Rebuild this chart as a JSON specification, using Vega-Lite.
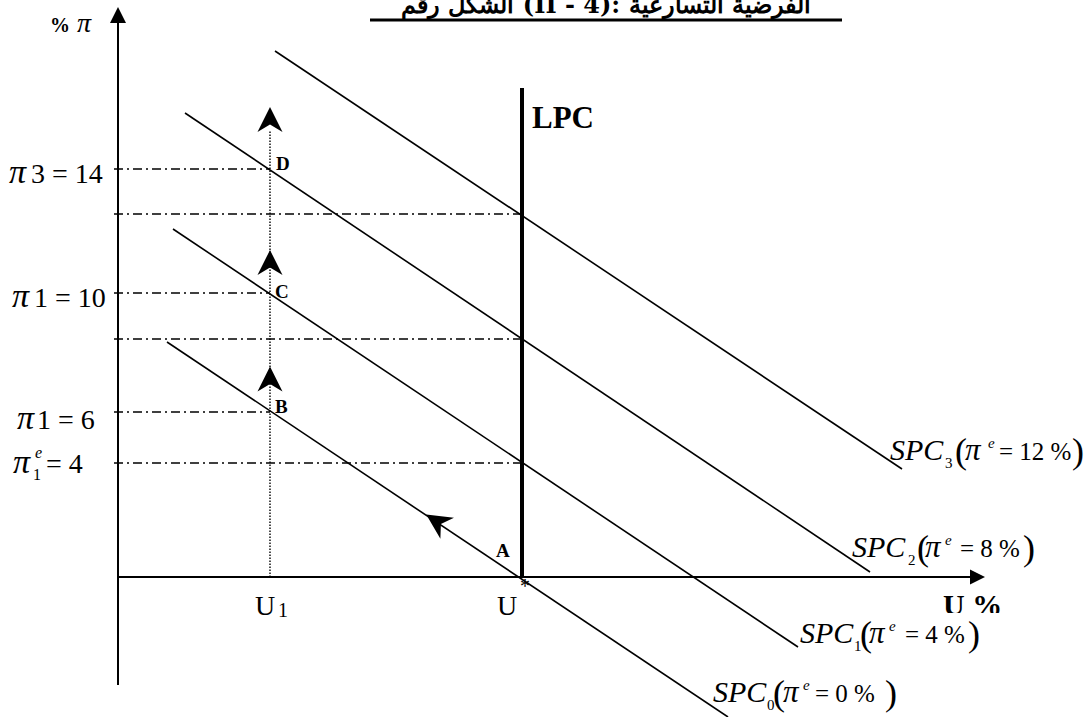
{
  "$schema": "https://vega.github.io/schema/vega-lite/v6.json",
  "width": 1088,
  "height": 717,
  "autosize": {"type": "none"},
  "padding": 0,
  "background": "white",
  "config": {"view": {"stroke": null}},
  "datasets": {
    "seg": [
      {"kind": "axis", "x": 0, "y": -108, "x2": 0, "y2": 558},
      {"kind": "axis", "x": 0, "y": 0, "x2": 853, "y2": 0},
      {"kind": "spc", "x": 49, "y": 235, "x2": 610, "y2": -140},
      {"kind": "spc", "x": 55, "y": 348, "x2": 680, "y2": -70},
      {"kind": "spc", "x": 67, "y": 464, "x2": 752, "y2": 5},
      {"kind": "spc", "x": 157, "y": 526, "x2": 784, "y2": 108},
      {"kind": "lpc", "x": 404, "y": -1, "x2": 404, "y2": 489},
      {"kind": "dashdot", "x": -4, "y": 408, "x2": 152, "y2": 408},
      {"kind": "dashdot", "x": -4, "y": 363, "x2": 404, "y2": 363},
      {"kind": "dashdot", "x": -4, "y": 284, "x2": 152, "y2": 284},
      {"kind": "dashdot", "x": -4, "y": 238, "x2": 404, "y2": 238},
      {"kind": "dashdot", "x": -4, "y": 165, "x2": 152, "y2": 165},
      {"kind": "dashdot", "x": -4, "y": 114, "x2": 404, "y2": 114},
      {"kind": "dotted", "x": 152, "y": 0, "x2": 152, "y2": 447},
      {"kind": "underline", "x": 252, "y": 557, "x2": 724, "y2": 557}
    ],
    "heads": [
      {"kind": "chevron", "x": 152, "y": 457.5},
      {"kind": "chevron", "x": 152, "y": 314.5},
      {"kind": "chevron", "x": 152, "y": 198},
      {"kind": "chevron_tilt", "x": 318.7, "y": 55.6},
      {"kind": "triup", "x": 0, "y": 562},
      {"kind": "triright", "x": 859.5, "y": 0}
    ],
    "mask": [
      {"x": 682, "x2": 882, "y": -36, "y2": -83}
    ],
    "txt": [
      {"kind": "title", "x": 488, "y": 564, "text": "الشكل رقم (II - 4): الفرضية التسارعية"},
      {"kind": "uaxis", "x": 825, "y": -38, "text": "U %"},
      {"kind": "labpi", "x": -109, "y": 394, "text": "π"},
      {"kind": "lab", "x": -87, "y": 394, "text": "3 = 14"},
      {"kind": "labpi", "x": -106, "y": 270, "text": "π"},
      {"kind": "lab", "x": -84, "y": 270, "text": "1 = 10"},
      {"kind": "labpi", "x": -101, "y": 148, "text": "π"},
      {"kind": "lab", "x": -81, "y": 148, "text": "1 = 6"},
      {"kind": "labpi", "x": -105, "y": 104, "text": "π"},
      {"kind": "labsup", "x": -83, "y": 119, "text": "e"},
      {"kind": "labsub", "x": -85, "y": 97, "text": "1"},
      {"kind": "lab", "x": -72, "y": 104, "text": "= 4"},
      {"kind": "pct", "x": -68, "y": 545, "text": "%"},
      {"kind": "labital", "x": -41, "y": 545, "text": "π"},
      {"kind": "lab", "x": 137, "y": -38, "text": "U"},
      {"kind": "usub", "x": 160, "y": -40, "text": "1"},
      {"kind": "lab", "x": 379, "y": -38, "text": "U"},
      {"kind": "usub", "x": 402, "y": -16, "text": "*"},
      {"kind": "pt", "x": 158, "y": 407, "text": "D"},
      {"kind": "pt", "x": 157, "y": 279, "text": "C"},
      {"kind": "pt", "x": 157, "y": 164, "text": "B"},
      {"kind": "pt", "x": 378, "y": 20, "text": "A"},
      {"kind": "big", "x": 414, "y": 449, "text": "LPC"},
      {"kind": "spc", "x": 772, "y": 117, "text": "SPC"},
      {"kind": "spcsub", "x": 827, "y": 109, "text": "3"},
      {"kind": "paren", "x": 837, "y": 114, "text": "("},
      {"kind": "spcpi", "x": 847, "y": 117, "text": "π"},
      {"kind": "spcsup", "x": 870, "y": 129, "text": "e"},
      {"kind": "spcreg", "x": 881, "y": 117, "text": "= 12 %"},
      {"kind": "paren", "x": 954, "y": 114, "text": ")"},
      {"kind": "spc", "x": 734, "y": 20, "text": "SPC"},
      {"kind": "spcsub", "x": 790, "y": 12, "text": "2"},
      {"kind": "paren", "x": 799, "y": 17, "text": "("},
      {"kind": "spcpi", "x": 807, "y": 20, "text": "π"},
      {"kind": "spcsup", "x": 827, "y": 32, "text": "e"},
      {"kind": "spcreg", "x": 842, "y": 20, "text": "= 8 %"},
      {"kind": "paren", "x": 905, "y": 17, "text": ")"},
      {"kind": "spc", "x": 682, "y": -66, "text": "SPC"},
      {"kind": "spcsub", "x": 736, "y": -74, "text": "1"},
      {"kind": "paren", "x": 742, "y": -69, "text": "("},
      {"kind": "spcpi", "x": 751, "y": -66, "text": "π"},
      {"kind": "spcsup", "x": 771, "y": -54, "text": "e"},
      {"kind": "spcreg", "x": 787, "y": -66, "text": "= 4 %"},
      {"kind": "paren", "x": 850, "y": -69, "text": ")"},
      {"kind": "spc", "x": 595, "y": -125, "text": "SPC"},
      {"kind": "spcsub", "x": 649, "y": -133, "text": "0"},
      {"kind": "paren", "x": 655, "y": -128, "text": "("},
      {"kind": "spcpi", "x": 665, "y": -125, "text": "π"},
      {"kind": "spcsup", "x": 685, "y": -113, "text": "e"},
      {"kind": "spcreg", "x": 697, "y": -125, "text": "= 0 %"},
      {"kind": "paren", "x": 767, "y": -128, "text": ")"}
    ]
  },
  "encoding": {
    "x": {"field": "x", "type": "quantitative", "scale": {"domain": [-118, 970], "nice": false, "zero": false}, "axis": null},
    "y": {"field": "y", "type": "quantitative", "scale": {"domain": [-140, 577], "nice": false, "zero": false}, "axis": null}
  },
  "layer": [
    {"data": {"name": "seg"}, "transform": [{"filter": "datum.kind === 'axis'"}], "mark": {"type": "rule", "color": "black", "strokeWidth": 2}, "encoding": {"x2": {"field": "x2"}, "y2": {"field": "y2"}}},
    {"data": {"name": "seg"}, "transform": [{"filter": "datum.kind === 'spc'"}], "mark": {"type": "rule", "color": "black", "strokeWidth": 1.6}, "encoding": {"x2": {"field": "x2"}, "y2": {"field": "y2"}}},
    {"data": {"name": "seg"}, "transform": [{"filter": "datum.kind === 'lpc'"}], "mark": {"type": "rule", "color": "black", "strokeWidth": 4}, "encoding": {"x2": {"field": "x2"}, "y2": {"field": "y2"}}},
    {"data": {"name": "seg"}, "transform": [{"filter": "datum.kind === 'dashdot'"}], "mark": {"type": "rule", "color": "black", "strokeWidth": 1.4, "strokeDash": [9, 4, 2, 4]}, "encoding": {"x2": {"field": "x2"}, "y2": {"field": "y2"}}},
    {"data": {"name": "seg"}, "transform": [{"filter": "datum.kind === 'dotted'"}], "mark": {"type": "rule", "color": "black", "strokeWidth": 1.4, "strokeDash": [1.5, 1.5]}, "encoding": {"x2": {"field": "x2"}, "y2": {"field": "y2"}}},
    {"data": {"name": "seg"}, "transform": [{"filter": "datum.kind === 'underline'"}], "mark": {"type": "rule", "color": "black", "strokeWidth": 3}, "encoding": {"x2": {"field": "x2"}, "y2": {"field": "y2"}}},
    {"data": {"name": "heads"}, "transform": [{"filter": "datum.kind === 'chevron'"}], "mark": {"type": "point", "shape": "M0,-1L1,1L0,0.4L-1,1Z", "size": 625, "filled": true, "color": "black", "opacity": 1, "strokeWidth": 0}},
    {"data": {"name": "heads"}, "transform": [{"filter": "datum.kind === 'chevron_tilt'"}], "mark": {"type": "point", "shape": "M0,-1L1,1L0,0.4L-1,1Z", "size": 625, "angle": 303, "filled": true, "color": "black", "opacity": 1, "strokeWidth": 0}},
    {"data": {"name": "heads"}, "transform": [{"filter": "datum.kind === 'triup'"}], "mark": {"type": "point", "shape": "M0,-1L1,1L-1,1Z", "size": 256, "filled": true, "color": "black", "opacity": 1, "strokeWidth": 0}},
    {"data": {"name": "heads"}, "transform": [{"filter": "datum.kind === 'triright'"}], "mark": {"type": "point", "shape": "M1,0L-1,1L-1,-1Z", "size": 225, "filled": true, "color": "black", "opacity": 1, "strokeWidth": 0}},
    {"data": {"name": "txt"}, "transform": [{"filter": "datum.kind === 'uaxis'"}], "mark": {"type": "text", "align": "left", "baseline": "alphabetic", "font": "Liberation Serif", "fontWeight": "bold", "fontSize": 30, "color": "black"}, "encoding": {"text": {"field": "text"}}},
    {"data": {"name": "mask"}, "mark": {"type": "rect", "color": "white", "opacity": 1, "strokeWidth": 0}, "encoding": {"x2": {"field": "x2"}, "y2": {"field": "y2"}}},
    {"data": {"name": "txt"}, "transform": [{"filter": "datum.kind === 'title'"}], "mark": {"type": "text", "align": "center", "baseline": "alphabetic", "font": "DejaVu Serif", "fontWeight": "bold", "fontSize": 24, "color": "black"}, "encoding": {"text": {"field": "text"}}},
    {"data": {"name": "txt"}, "transform": [{"filter": "datum.kind === 'lab'"}], "mark": {"type": "text", "align": "left", "baseline": "alphabetic", "font": "Liberation Serif", "fontSize": 28, "color": "black"}, "encoding": {"text": {"field": "text"}}},
    {"data": {"name": "txt"}, "transform": [{"filter": "datum.kind === 'labpi'"}], "mark": {"type": "text", "align": "left", "baseline": "alphabetic", "font": "Liberation Serif", "fontStyle": "italic", "fontSize": 34, "color": "black"}, "encoding": {"text": {"field": "text"}}},
    {"data": {"name": "txt"}, "transform": [{"filter": "datum.kind === 'labital'"}], "mark": {"type": "text", "align": "left", "baseline": "alphabetic", "font": "Liberation Serif", "fontStyle": "italic", "fontSize": 28, "color": "black"}, "encoding": {"text": {"field": "text"}}},
    {"data": {"name": "txt"}, "transform": [{"filter": "datum.kind === 'labsup'"}], "mark": {"type": "text", "align": "left", "baseline": "alphabetic", "font": "Liberation Serif", "fontStyle": "italic", "fontSize": 16, "color": "black"}, "encoding": {"text": {"field": "text"}}},
    {"data": {"name": "txt"}, "transform": [{"filter": "datum.kind === 'labsub'"}], "mark": {"type": "text", "align": "left", "baseline": "alphabetic", "font": "Liberation Serif", "fontSize": 16, "color": "black"}, "encoding": {"text": {"field": "text"}}},
    {"data": {"name": "txt"}, "transform": [{"filter": "datum.kind === 'usub'"}], "mark": {"type": "text", "align": "left", "baseline": "alphabetic", "font": "Liberation Serif", "fontSize": 20, "color": "black"}, "encoding": {"text": {"field": "text"}}},
    {"data": {"name": "txt"}, "transform": [{"filter": "datum.kind === 'pct'"}], "mark": {"type": "text", "align": "left", "baseline": "alphabetic", "font": "Liberation Serif", "fontWeight": "bold", "fontSize": 20, "color": "black"}, "encoding": {"text": {"field": "text"}}},
    {"data": {"name": "txt"}, "transform": [{"filter": "datum.kind === 'pt'"}], "mark": {"type": "text", "align": "left", "baseline": "alphabetic", "font": "Liberation Serif", "fontWeight": "bold", "fontSize": 19, "color": "black"}, "encoding": {"text": {"field": "text"}}},
    {"data": {"name": "txt"}, "transform": [{"filter": "datum.kind === 'big'"}], "mark": {"type": "text", "align": "left", "baseline": "alphabetic", "font": "Liberation Serif", "fontWeight": "bold", "fontSize": 31, "color": "black"}, "encoding": {"text": {"field": "text"}}},
    {"data": {"name": "txt"}, "transform": [{"filter": "datum.kind === 'spc'"}], "mark": {"type": "text", "align": "left", "baseline": "alphabetic", "font": "Liberation Serif", "fontStyle": "italic", "fontSize": 30, "color": "black"}, "encoding": {"text": {"field": "text"}}},
    {"data": {"name": "txt"}, "transform": [{"filter": "datum.kind === 'spcpi'"}], "mark": {"type": "text", "align": "left", "baseline": "alphabetic", "font": "Liberation Serif", "fontStyle": "italic", "fontSize": 31, "color": "black"}, "encoding": {"text": {"field": "text"}}},
    {"data": {"name": "txt"}, "transform": [{"filter": "datum.kind === 'spcreg'"}], "mark": {"type": "text", "align": "left", "baseline": "alphabetic", "font": "Liberation Serif", "fontSize": 25, "color": "black"}, "encoding": {"text": {"field": "text"}}},
    {"data": {"name": "txt"}, "transform": [{"filter": "datum.kind === 'spcsub'"}], "mark": {"type": "text", "align": "left", "baseline": "alphabetic", "font": "Liberation Serif", "fontSize": 15, "color": "black"}, "encoding": {"text": {"field": "text"}}},
    {"data": {"name": "txt"}, "transform": [{"filter": "datum.kind === 'spcsup'"}], "mark": {"type": "text", "align": "left", "baseline": "alphabetic", "font": "Liberation Serif", "fontStyle": "italic", "fontSize": 15, "color": "black"}, "encoding": {"text": {"field": "text"}}},
    {"data": {"name": "txt"}, "transform": [{"filter": "datum.kind === 'paren'"}], "mark": {"type": "text", "align": "left", "baseline": "alphabetic", "font": "Liberation Serif", "fontSize": 36, "color": "black"}, "encoding": {"text": {"field": "text"}}}
  ]
}
